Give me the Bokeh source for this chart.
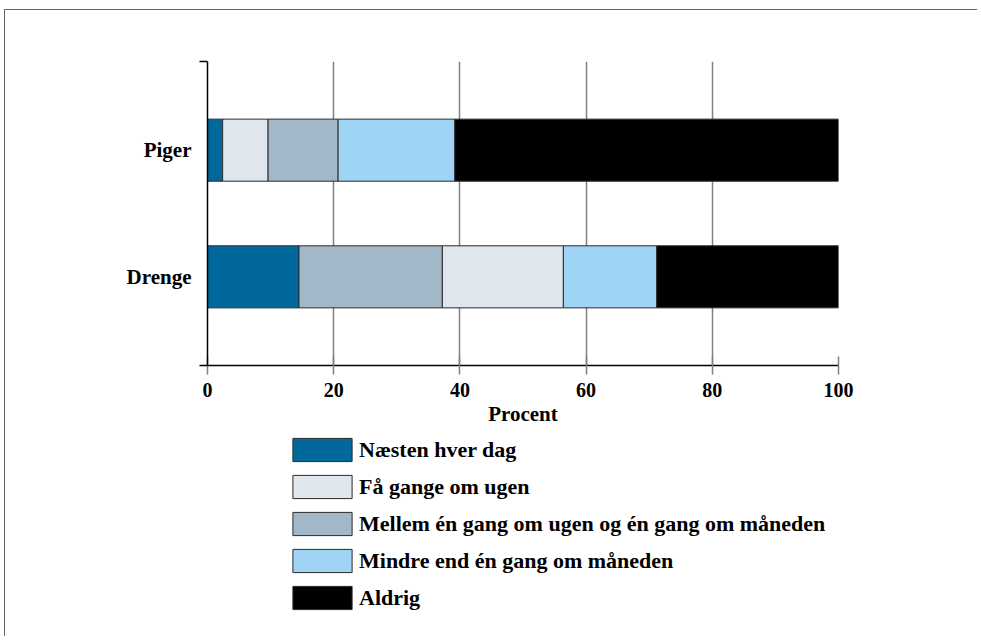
from bokeh.plotting import figure
from bokeh.layouts import column
from bokeh.models import Range1d, FixedTicker, Legend, LegendItem
from bokeh.embed import file_html
from bokeh.resources import INLINE

# ---- data ----
categories = ["Drenge", "Piger"]
series_names = ["Næsten hver dag", "Få gange om ugen",
                "Mellem én gang om ugen og én gang om måneden",
                "Mindre end én gang om måneden", "Aldrig"]
naesten = [14.5, 2.4]
faa = [19.2, 7.2]
mellem = [22.7, 11.1]
mindre = [14.8, 18.5]
aldrig = [28.8, 60.8]
# order in which the segments are stacked in each bar (as drawn in the original)
stack_order = {"Drenge": [0, 2, 1, 3, 4], "Piger": [0, 1, 2, 3, 4]}
x_ticks = [0, 20, 40, 60, 80, 100]
colors = ["#00689a", "#dfe6ee", "#a2b8c8", "#a0d4f4", "#000000"]

values = [naesten, faa, mellem, mindre, aldrig]
ypos = list(range(len(categories)))

FONT = "Liberation Serif"
BAR_LINE = "#2a2a2a"
W = 972

# ---- main chart ----
p = figure(width=W, height=424,
           min_border_left=202, min_border_right=W - 202 - 631, min_border_top=51, min_border_bottom=69,
           x_range=Range1d(0, 100), y_range=Range1d(-0.7, 1.7),
           output_backend="svg", toolbar_location=None, tools="")
p.outline_line_color = None
p.background_fill_color = "white"
p.border_fill_color = "white"

lefts = [[0.0] * len(categories) for _ in values]
rights = [[0.0] * len(categories) for _ in values]
for ci, cat in enumerate(categories):
    acc = 0.0
    for si in stack_order[cat]:
        lefts[si][ci] = acc
        acc += values[si][ci]
        rights[si][ci] = acc

for si, name in enumerate(series_names):
    p.hbar(y=ypos, left=lefts[si], right=rights[si], height=0.49,
           fill_color=colors[si], line_color=BAR_LINE, line_width=1)

p.xaxis.ticker = FixedTicker(ticks=x_ticks)
p.xaxis.axis_label = "Procent"
p.xaxis.axis_label_text_font = FONT
p.xaxis.axis_label_text_font_style = "bold"
p.xaxis.axis_label_text_font_size = "21px"
p.xaxis.axis_label_text_color = "black"
p.xaxis.axis_label_standoff = 2
p.xaxis.major_label_text_font = FONT
p.xaxis.major_label_text_font_style = "bold"
p.xaxis.major_label_text_font_size = "20px"
p.xaxis.major_label_text_color = "black"
p.xaxis.major_label_standoff = 8
p.xaxis.major_tick_in = 9
p.xaxis.major_tick_out = 9
p.xaxis.major_tick_line_color = "#808080"
p.xaxis.major_tick_line_width = 1.5
p.xaxis.minor_tick_line_color = None
p.xaxis.axis_line_color = "black"
p.xaxis.axis_line_width = 1.5

p.yaxis.ticker = FixedTicker(ticks=ypos, minor_ticks=[-0.7, 1.7])
p.yaxis.major_label_overrides = {i: c for i, c in zip(ypos, categories)}
p.yaxis.major_label_text_font = FONT
p.yaxis.major_label_text_font_style = "bold"
p.yaxis.major_label_text_font_size = "21px"
p.yaxis.major_label_text_color = "black"
p.yaxis.major_tick_line_color = None
p.yaxis.major_tick_in = 0
p.yaxis.major_tick_out = 0
p.yaxis.major_label_standoff = 8
p.yaxis.minor_tick_in = 0
p.yaxis.minor_tick_out = 8
p.yaxis.minor_tick_line_color = "black"
p.yaxis.minor_tick_line_width = 1.5
p.yaxis.axis_line_color = "black"
p.yaxis.axis_line_width = 1.5

p.xgrid.ticker = FixedTicker(ticks=x_ticks)
p.xgrid.grid_line_color = "#808080"
p.xgrid.grid_line_width = 1.5
p.ygrid.grid_line_color = None

# ---- legend panel (renderers kept out of view, used only for the legend swatches) ----
q = figure(width=W, height=202, min_border=0,
           x_range=Range1d(0, 100), y_range=Range1d(10, 11),
           x_axis_location=None, y_axis_location=None,
           output_backend="svg", toolbar_location=None, tools="")
q.outline_line_color = None
q.grid.grid_line_color = None
q.border_fill_color = "white"
q.background_fill_color = "white"

items = []
for si, name in enumerate(series_names):
    r = q.hbar(y=ypos, left=lefts[si], right=rights[si], height=0.49,
               fill_color=colors[si], line_color=BAR_LINE, line_width=1)
    items.append(LegendItem(label=name, renderers=[r]))

legend = Legend(items=items, location=(78, 24), orientation="vertical",
                glyph_width=74, glyph_height=29, label_height=29, label_standoff=0,
                spacing=8, padding=0, margin=0,
                border_line_color=None, background_fill_alpha=0,
                label_text_font=FONT, label_text_font_style="bold",
                label_text_font_size="22px", label_text_color="black")
q.add_layout(legend, "center")

layout = column(p, q, spacing=0)
layout.styles = {"border-top": "1px solid #666666", "border-left": "1px solid #666666",
                 "margin-left": "4px", "margin-top": "9px"}

open("out.html", "w").write(file_html(layout, INLINE))
